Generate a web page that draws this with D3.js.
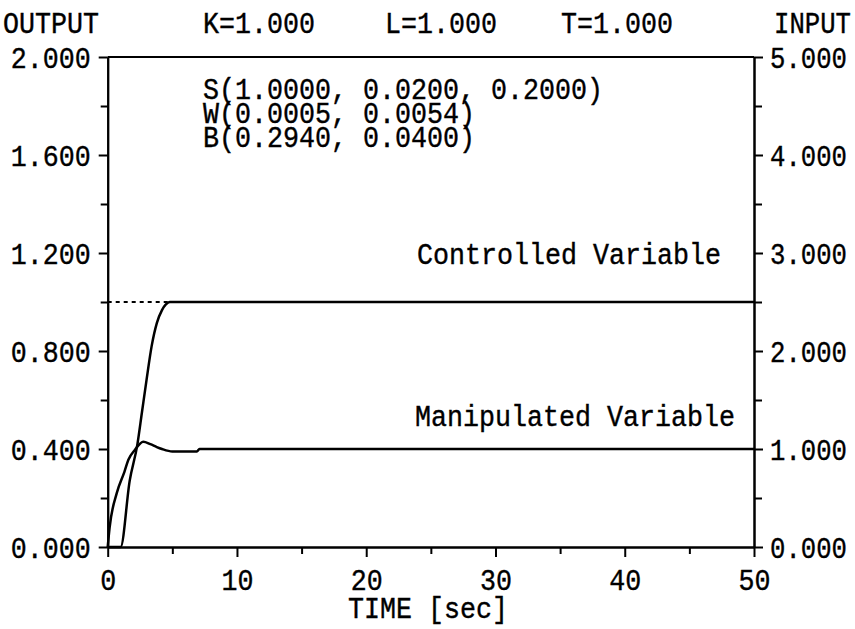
<!DOCTYPE html>
<html>
<head>
<meta charset="utf-8">
<script src="https://cdn.jsdelivr.net/npm/d3@7"></script>
<style>
  html, body { margin: 0; padding: 0; background: #fff; }
  svg { display: block; }
</style>
</head>
<body>
<div id="chart"></div>
<script>
// Step response: controlled variable (left OUTPUT axis) and manipulated
// variable (right INPUT axis) against time.

const timeTicks = [0, 10, 20, 30, 40, 50];
const timeMinor = [5, 15, 25, 35, 45];
const outputTicks = [0, 0.4, 0.8, 1.2, 1.6, 2.0];
const outputMinor = [0.2, 0.6, 1.0, 1.4, 1.8];
const inputTicks = [0, 1, 2, 3, 4, 5];
const inputMinor = [0.5, 1.5, 2.5, 3.5, 4.5];

// controlled variable (OUTPUT scale)
const cvTime = [0, 1.0, 1.7, 2.3, 2.65, 3.0, 3.4, 3.8, 4.2, 4.5, 4.8, 50];
const cvValue = [0, 0, 0.27, 0.42, 0.55, 0.68, 0.82, 0.914, 0.967, 0.99, 1.0, 1.0];

// manipulated variable (INPUT scale)
const mvTime = [0, 0.15, 0.7, 1.3, 1.6, 2.1, 2.75, 3.3, 3.8, 4.2, 5.0, 6.9, 7.1, 50];
const mvValue = [0, 0.2, 0.55, 0.77, 0.89, 0.99, 1.075, 1.05, 1.02, 1.0, 0.975, 0.975, 1.0, 1.0];

// set point (dotted, until the response reaches it)
const spTime = [0, 4.8];
const spValue = [1.0, 1.0];

const headerLabels = ["K=1.000", "L=1.000", "T=1.000"];
const paramLines = ["S(1.0000, 0.0200, 0.2000)", "W(0.0005, 0.0054)", "B(0.2940, 0.0400)"];

const W = 855, H = 629;
const LEFT = 107.7, RIGHT = 754, TOP = 57, BOTTOM = 547;
const FONT_SIZE = 30;
const CHAR_W = 16;            // advance of the old plotter font
const FONT = "'Liberation Mono', 'DejaVu Sans Mono', monospace";

const svg = d3.select("#chart").append("svg")
    .attr("width", W).attr("height", H)
    .attr("viewBox", `0 0 ${W} ${H}`);

const x = d3.scaleLinear().domain([0, 50]).range([LEFT, RIGHT]);
const yOut = d3.scaleLinear().domain([0, 2]).range([BOTTOM, TOP]);
const yIn = d3.scaleLinear().domain([0, 5]).range([BOTTOM, TOP]);

// condensed monospace text: squeeze horizontally with a transform so the
// box the browser reports matches what is drawn
function label(sel, str, px, py, anchor = "start", cw = CHAR_W) {
    const sx = cw / (0.6 * FONT_SIZE);
    return sel.append("text")
        .attr("transform", `translate(${px},${py}) scale(${sx},1)`)
        .attr("text-anchor", anchor)
        .attr("font-family", FONT)
        .attr("font-size", FONT_SIZE)
        .attr("fill", "#000")
        .attr("stroke", "#000")
        .attr("stroke-width", 0.4)
        .text(str);
}

function styleAxis(g) {
    g.selectAll("path, line").attr("stroke", "#000").attr("stroke-width", 2);
}

// minor ticks first
svg.append("g").attr("transform", `translate(${LEFT},0)`)
    .call(d3.axisLeft(yOut).tickValues(outputMinor).tickSize(7).tickSizeOuter(0).tickFormat(""))
    .call(styleAxis);
svg.append("g").attr("transform", `translate(${RIGHT},0)`)
    .call(d3.axisRight(yIn).tickValues(inputMinor).tickSize(8).tickSizeOuter(0).tickFormat(""))
    .call(styleAxis);
svg.append("g").attr("transform", `translate(0,${BOTTOM})`)
    .call(d3.axisBottom(x).tickValues(timeMinor).tickSize(7).tickSizeOuter(0).tickFormat(""))
    .call(styleAxis);

// major ticks with labels
const fmt = d3.format(".3f");

const leftAxis = svg.append("g").attr("transform", `translate(${LEFT},0)`)
    .call(d3.axisLeft(yOut).tickValues(outputTicks).tickSize(9).tickSizeOuter(0).tickFormat(""))
    .call(styleAxis);
leftAxis.selectAll(".tick").each(function (d) {
    label(d3.select(this), fmt(d), -17, 10, "end");
});

const rightAxis = svg.append("g").attr("transform", `translate(${RIGHT},0)`)
    .call(d3.axisRight(yIn).tickValues(inputTicks).tickSize(9).tickSizeOuter(0).tickFormat(""))
    .call(styleAxis);
rightAxis.selectAll(".tick").each(function (d) {
    label(d3.select(this), fmt(d), 16, 10, "start", 15.4);
});

const bottomAxis = svg.append("g").attr("transform", `translate(0,${BOTTOM})`)
    .call(d3.axisBottom(x).tickValues(timeTicks).tickSize(10).tickSizeOuter(0).tickFormat(""))
    .call(styleAxis);
bottomAxis.selectAll(".tick").each(function (d) {
    label(d3.select(this), String(d), 0, 43, "middle");
});

// top edge of the frame
svg.append("line")
    .attr("x1", LEFT).attr("x2", RIGHT)
    .attr("y1", TOP).attr("y2", TOP)
    .attr("stroke", "#000").attr("stroke-width", 2);

// curves
const lineOut = d3.line().x((d) => x(d[0])).y((d) => yOut(d[1])).curve(d3.curveMonotoneX);
const lineIn = d3.line().x((d) => x(d[0])).y((d) => yIn(d[1])).curve(d3.curveMonotoneX);

svg.append("path")
    .datum(d3.zip(spTime, spValue))
    .attr("d", lineOut)
    .attr("fill", "none").attr("stroke", "#000")
    .attr("stroke-width", 2).attr("stroke-dasharray", "4,4");

svg.append("path")
    .datum(d3.zip(cvTime, cvValue))
    .attr("d", lineOut)
    .attr("fill", "none").attr("stroke", "#000").attr("stroke-width", 2.5);

svg.append("path")
    .datum(d3.zip(mvTime, mvValue))
    .attr("d", lineIn)
    .attr("fill", "none").attr("stroke", "#000").attr("stroke-width", 2.5);

// texts
label(svg, "OUTPUT", 3, 33);
label(svg, "INPUT", 774, 33, "start", 15.4);
const headerX = [203, 385, 561];
headerLabels.forEach((s, i) => label(svg, s, headerX[i], 33));
paramLines.forEach((s, i) => label(svg, s, 203, 99 + i * 24));
label(svg, "Controlled Variable", 417, 264);
label(svg, "Manipulated Variable", 415, 426);
label(svg, "TIME [sec]", 428, 618, "middle");
</script>
</body>
</html>
